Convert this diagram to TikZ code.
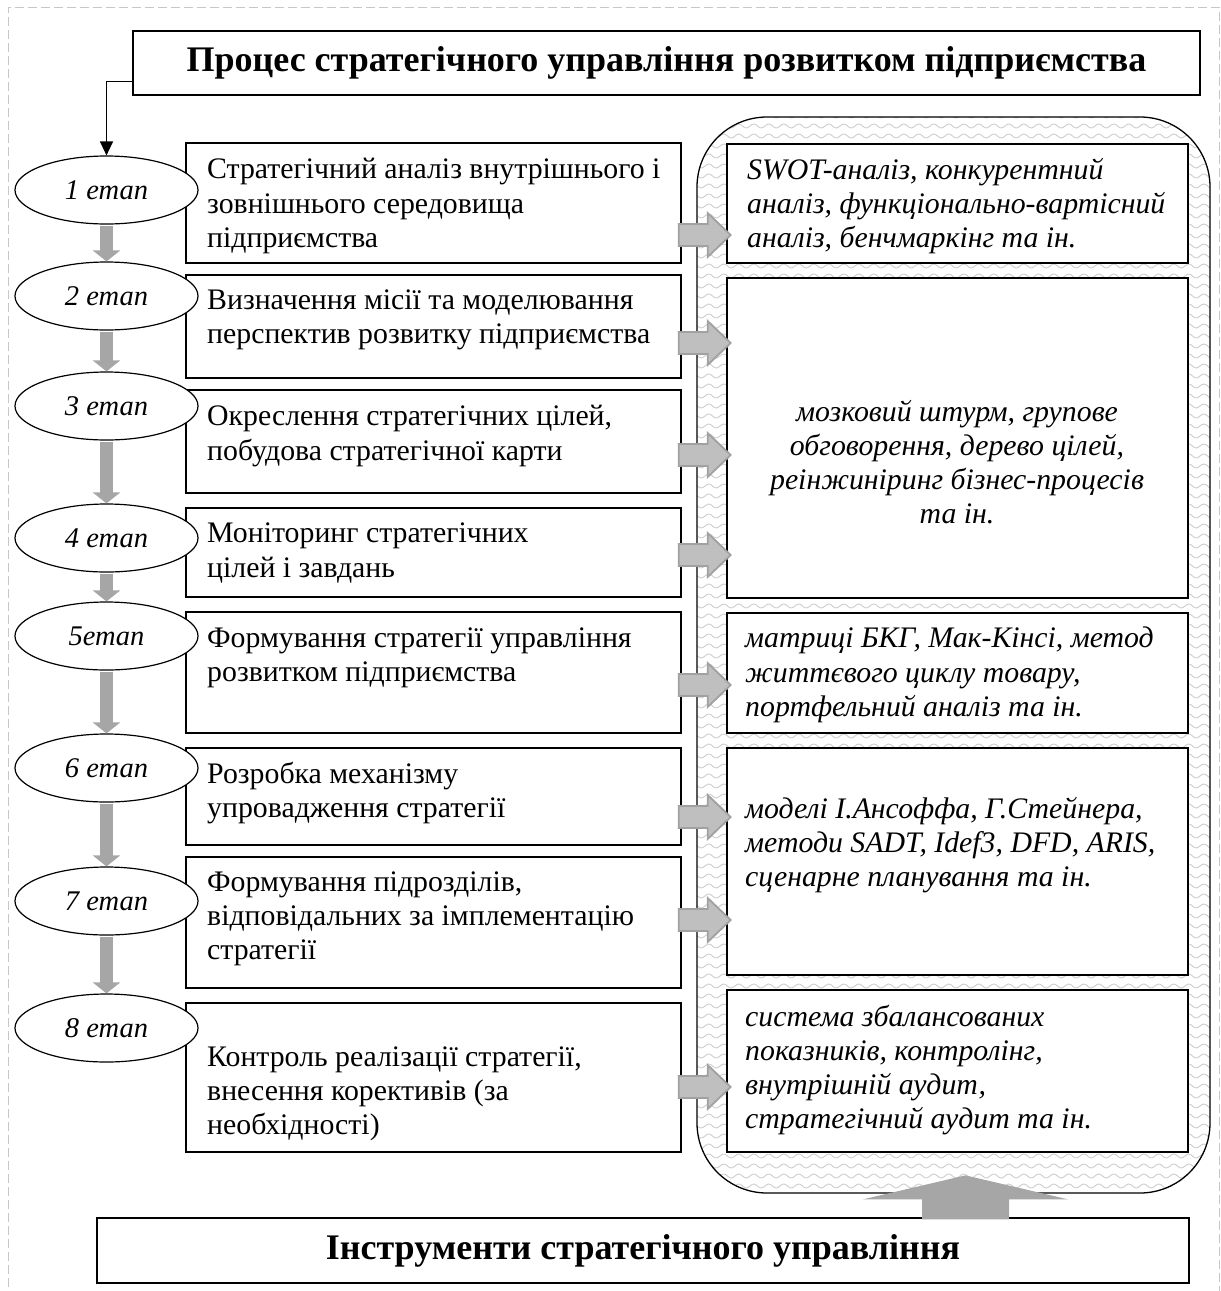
\documentclass[tikz,border=0pt]{standalone}
\usepackage{fontspec}
\setmainfont{Liberation Serif}
\usetikzlibrary{arrows.meta,patterns,calc,shapes.geometric}

\pgfdeclarepatternformonly{waves}{\pgfpoint{-1pt}{-1pt}}{\pgfpoint{16pt}{11pt}}{\pgfpoint{15pt}{10pt}}{
  \pgfsetlinewidth{0.9pt}
  \pgfpathmoveto{\pgfpoint{0pt}{5pt}}
  \pgfpathcurveto{\pgfpoint{2.5pt}{7.6pt}}{\pgfpoint{5pt}{7.6pt}}{\pgfpoint{7.5pt}{5pt}}
  \pgfpathcurveto{\pgfpoint{10pt}{2.4pt}}{\pgfpoint{12.5pt}{2.4pt}}{\pgfpoint{15pt}{5pt}}
  \pgfusepath{stroke}
}

\newcommand{\sidearrow}[2]{%
  \filldraw[side] ($(#1.east)+(-3,#2)$) ++(0,-11) -- ++(29,0) -- ++(0,-11) -- ++(23,22) -- ++(-23,22) -- ++(0,-11) -- ++(-29,0) -- cycle;}

\begin{document}
\begin{tikzpicture}[x=1pt,y=-1pt,
  box/.style={draw, line width=1.3pt, fill=white, inner sep=0pt},
  txt/.style={font=\fontsize{29.8}{34.2}\selectfont, align=left, inner sep=0pt, anchor=west},
  itxt/.style={font=\fontsize{29.8}{34.2}\selectfont\itshape, align=left, inner sep=0pt, anchor=west},
  etap/.style={draw, ellipse, line width=1.2pt, fill=white, minimum width=183pt, minimum height=68pt, inner sep=0pt, font=\fontsize{28.5}{30}\selectfont\itshape},
  down/.style={draw=black!35, line width=13pt, shorten <=1pt, -{Triangle[width=27pt,length=11pt]}},
  side/.style={fill=black!25, draw=black!37, line width=1.8pt, line join=miter},
  head/.style={draw, line width=1.3pt, fill=white, inner sep=0pt, font=\fontsize{36}{40}\selectfont\bfseries},
]
\useasboundingbox (0,0) rectangle (1221,1291);
\fill[white] (0,0) rectangle (1221,1291);
% outer dashed frame
\draw[black!22, line width=1pt, dash pattern=on 9pt off 4pt] (8,1300) -- (8,7) -- (1219,7) -- (1219,1300);

% tools frame
\node[draw, line width=1.3pt, rounded corners=70pt, pattern=waves, pattern color=black!19,
      minimum width=513pt, minimum height=1076pt, inner sep=0pt] (tools) at (953.5,655) {};

% title
\node[head, minimum width=1067pt, minimum height=64pt] (title) at (666.5,63) {Процес стратегічного управління розвитком підприємства};
\node[head, minimum width=1092pt, minimum height=65pt] (inst) at (643,1250.5) {Інструменти стратегічного управління};

% left boxes
\node[box, minimum width=495pt, minimum height=120pt] (l1) at (433.5,203) {};
\node[box, minimum width=495pt, minimum height=103pt] (l2) at (433.5,326.5) {};
\node[box, minimum width=495pt, minimum height=103pt] (l3) at (433.5,441.5) {};
\node[box, minimum width=495pt, minimum height=89pt] (l4) at (433.5,552.5) {};
\node[box, minimum width=495pt, minimum height=121pt] (l5) at (433.5,672.5) {};
\node[box, minimum width=495pt, minimum height=97pt] (l6) at (433.5,796.5) {};
\node[box, minimum width=495pt, minimum height=131pt] (l7) at (433.5,922.5) {};
\node[box, minimum width=495pt, minimum height=149pt] (l8) at (433.5,1077.5) {};

\node[txt] (t1) at (207,206) {Стратегічний аналіз внутрішнього і\\зовнішнього середовища\\підприємства};
\node[txt] (t2) at (207,320) {Визначення місії та моделювання\\перспектив розвитку підприємства};
\node[txt] (t3) at (207,436) {Окреслення стратегічних цілей,\\побудова стратегічної карти};
\node[txt] (t4) at (207,553) {Моніторинг стратегічних\\цілей і завдань};
\node[txt] (t5) at (207,658) {Формування стратегії управління\\розвитком підприємства};
\node[txt] (t6) at (207,793) {Розробка механізму\\упровадження стратегії};
\node[txt] (t7) at (207,919) {Формування підрозділів,\\відповідальних за імплементацію\\стратегії};
\node[txt] (t8) at (207,1094) {Контроль реалізації стратегії,\\внесення корективів (за\\необхідності)};

% right boxes
\node[box, minimum width=461pt, minimum height=119pt] (r1) at (957.5,203.5) {};
\node[box, minimum width=461pt, minimum height=320pt] (r2) at (957.5,438) {};
\node[box, minimum width=461pt, minimum height=120pt] (r3) at (957.5,673) {};
\node[box, minimum width=461pt, minimum height=227pt] (r4) at (957.5,861.5) {};
\node[box, minimum width=461pt, minimum height=162pt] (r5) at (957.5,1071) {};

\node[itxt] (s1) at (747,206) {SWOT-аналіз, конкурентний\\аналіз, функціонально-вартісний\\аналіз, бенчмаркінг та ін.};
\node[itxt, align=center, anchor=center] (s2) at (957,462) {мозковий штурм, групове\\обговорення, дерево цілей,\\реінжиніринг бізнес-процесів\\та ін.};
\node[itxt] (s3) at (745,675) {матриці БКГ, Мак-Кінсі, метод\\життєвого циклу товару,\\портфельний аналіз та ін.};
\node[itxt] (s4) at (745,845) {моделі І.Ансоффа, Г.Стейнера,\\методи SADT, Idef3, DFD, ARIS,\\сценарне планування та ін.};
\node[itxt] (s5) at (745,1070) {система збалансованих\\показників, контролінг,\\внутрішній аудит,\\стратегічний аудит та ін.};

% stage ellipses
\node[etap] (e1) at (106.5,190) {1 етап};
\node[etap] (e2) at (106.5,296) {2 етап};
\node[etap] (e3) at (106.5,406) {3 етап};
\node[etap] (e4) at (106.5,538) {4 етап};
\node[etap] (e5) at (106.5,636) {5етап};
\node[etap] (e6) at (106.5,768) {6 етап};
\node[etap] (e7) at (106.5,901) {7 етап};
\node[etap] (e8) at (106.5,1028) {8 етап};

\draw[down] (e1) -- (e2);
\draw[down] (e2) -- (e3);
\draw[down] (e3) -- (e4);
\draw[down] (e4) -- (e5);
\draw[down] (e5) -- (e6);
\draw[down] (e6) -- (e7);
\draw[down] (e7) -- (e8);

\draw[line width=1.3pt, -{Triangle[width=13pt,length=14pt]}] ($(title.south west)+(0,-14)$) -| (e1.north);

% side arrows
\sidearrow{l1}{32}
\sidearrow{l2}{16.5}
\sidearrow{l3}{13.5}
\sidearrow{l4}{2.5}
\sidearrow{l5}{12.5}
\sidearrow{l6}{20.5}
\sidearrow{l7}{-2.5}
\sidearrow{l8}{9.5}

% big upward arrow
\coordinate (ab) at ($(inst.north)+(322.5,2)$);
\fill[black!35] (ab) ++(-43.5,0) -- ++(0,-20) -- ++(-59,0) -- ++(102.5,-24) -- ++(102.5,24) -- ++(-59,0) -- ++(0,20) -- cycle;
\end{tikzpicture}
\end{document}
